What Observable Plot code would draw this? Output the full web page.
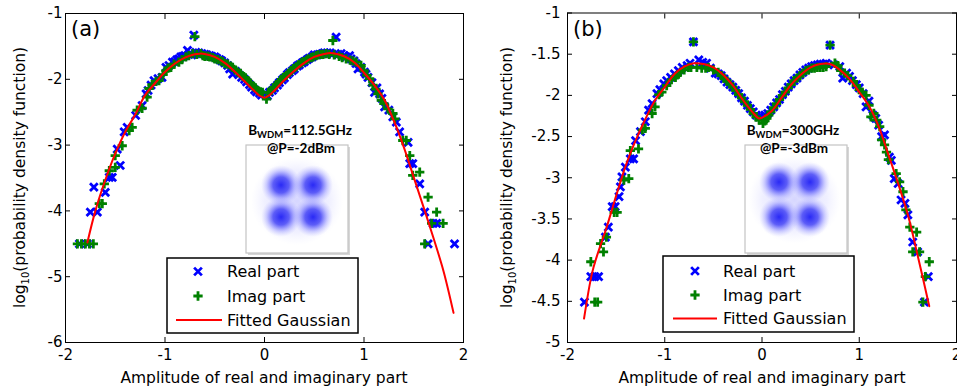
<!DOCTYPE html>
<html><head><meta charset="utf-8">
<script src="https://cdn.jsdelivr.net/npm/d3@7"></script>
<script src="https://cdn.jsdelivr.net/npm/@observablehq/plot@0.6"></script>
<style>
body{margin:0;background:#fff;}
#wrap{position:relative;width:957px;height:392px;overflow:hidden;font-family:"DejaVu Sans",sans-serif;}
#wrap svg{position:absolute;top:0;overflow:visible;}
</style></head><body><div id="wrap"></div>
<script>
// ---------- data ----------
const xTicks = [-2, -1, 0, 1, 2];
const aYTicks = [-6, -5, -4, -3, -2, -1];
const bYTicks = [-5, -4.5, -4, -3.5, -3, -2.5, -2, -1.5, -1];
const legendLabels = ["Real part", "Imag part", "Fitted Gaussian"];
const xLabel = "Amplitude of real and imaginary part";
const panelLabels = ["(a)", "(b)"];
const insetRate = ["112.5GHz", "300GHz"];
const insetPower = ["@P=-2dBm", "@P=-3dBm"];

// (a) fitted curve
const aCurveX = [-1.78,-1.70,-1.60,-1.50,-1.40,-1.30,-1.20,-1.10,-1.00,-0.90,-0.80,-0.70,-0.65,-0.60,-0.50,-0.40,-0.30,-0.20,-0.10,-0.05,0.00,0.05,0.10,0.20,0.30,0.40,0.50,0.60,0.67,0.80,0.90,1.00,1.10,1.20,1.30,1.40,1.50,1.60,1.70,1.80,1.90];
const aCurveY = [-4.48,-4.00,-3.53,-3.13,-2.80,-2.54,-2.24,-2.06,-1.89,-1.76,-1.67,-1.62,-1.61,-1.615,-1.66,-1.75,-1.88,-2.03,-2.18,-2.25,-2.28,-2.24,-2.17,-2.01,-1.87,-1.75,-1.66,-1.615,-1.60,-1.65,-1.74,-1.90,-2.08,-2.30,-2.63,-3.03,-3.49,-3.95,-4.42,-4.92,-5.55];
// (a) real part
const aRealX = [-1.86,-1.78,-1.75,-1.68,-1.715,-1.60,-1.56,-1.53,-1.45,-1.48,-1.41,-1.38,-1.295,-1.23,-1.19,-1.14,-1.11,-1.03,-0.99,-0.925,-0.88,-0.84,-0.80,-0.774,-0.73,-0.71,-0.69,-0.63,-0.60,-0.55,-0.50,-0.45,-0.40,-0.32,-0.26,-0.20,-0.15,-0.10,-0.05,0.00,0.05,0.10,0.15,0.20,0.25,0.30,0.35,0.40,0.45,0.50,0.55,0.60,0.63,0.68,0.72,0.77,0.82,0.855,0.90,0.94,0.97,1.005,1.04,1.08,1.106,1.157,1.207,1.325,1.358,1.443,1.46,1.49,1.56,1.61,1.695,1.73,1.644,1.91];
const aRealY = [-4.50,-4.50,-4.02,-4.02,-3.64,-3.72,-3.49,-3.49,-3.31,-3.06,-2.80,-2.73,-2.55,-2.40,-2.22,-2.09,-2.02,-1.97,-1.82,-1.74,-1.70,-1.66,-1.64,-1.56,-1.63,-1.33,-1.59,-1.61,-1.62,-1.64,-1.66,-1.70,-1.75,-1.92,-1.93,-2.00,-2.08,-2.16,-2.21,-2.22,-2.20,-2.13,-2.05,-1.98,-1.90,-1.84,-1.78,-1.73,-1.68,-1.63,-1.62,-1.60,-1.60,-1.62,-1.36,-1.61,-1.66,-1.64,-1.72,-1.84,-1.82,-1.89,-1.97,-2.05,-2.20,-2.22,-2.42,-2.65,-2.80,-2.96,-3.28,-3.28,-3.59,-4.02,-4.19,-4.19,-4.50,-4.50];
const aRealBandX = [-1.17,-1.07,-0.96,-0.90,-0.86,-0.82,-0.76,-0.66,-0.58,-0.53,-0.48,-0.43,-0.37,-0.35,-0.29,-0.23,-0.18,-0.13,-0.08,-0.03,0.03,0.08,0.13,0.18,0.23,0.28,0.33,0.38,0.43,0.48,0.53,0.58,0.66,0.74,0.80,0.87,0.92,1.02,1.13,1.18,1.25,1.29];
const aRealBandY = [-2.17,-1.99,-1.79,-1.73,-1.69,-1.65,-1.62,-1.60,-1.63,-1.65,-1.68,-1.72,-1.79,-1.84,-1.88,-1.97,-2.04,-2.12,-2.19,-2.24,-2.25,-2.17,-2.09,-2.01,-1.93,-1.87,-1.80,-1.75,-1.70,-1.66,-1.63,-1.61,-1.60,-1.62,-1.64,-1.69,-1.76,-1.92,-2.13,-2.29,-2.47,-2.57];
// (a) imag part
const aImagX = [-1.88,-1.84,-1.80,-1.76,-1.72,-1.66,-1.63,-1.61,-1.56,-1.50,-1.50,-1.43,-1.36,-1.33,-1.28,-1.23,-1.18,-1.16,-1.06,-0.99,-0.94,-0.86,-0.79,-0.72,-0.70,-0.64,-0.62,-0.57,-0.52,-0.47,-0.42,-0.37,-0.32,-0.27,-0.22,-0.17,-0.12,-0.07,-0.02,0.02,0.07,0.12,0.17,0.22,0.27,0.32,0.37,0.42,0.47,0.52,0.57,0.62,0.687,0.70,0.82,0.92,0.97,1.056,1.09,1.174,1.24,1.29,1.31,1.39,1.425,1.46,1.49,1.56,1.644,1.73,1.68,1.795,1.61];
const aImagY = [-4.50,-4.50,-4.50,-4.50,-4.50,-3.89,-3.89,-3.59,-3.39,-3.34,-3.16,-3.01,-2.78,-2.73,-2.47,-2.44,-2.27,-2.14,-2.02,-1.87,-1.82,-1.74,-1.66,-1.61,-1.35,-1.61,-1.64,-1.65,-1.67,-1.70,-1.73,-1.77,-1.82,-1.89,-1.95,-2.02,-2.10,-2.17,-2.20,-2.30,-2.17,-2.08,-2.00,-1.94,-1.87,-1.81,-1.75,-1.71,-1.67,-1.64,-1.62,-1.61,-1.41,-1.63,-1.69,-1.74,-1.79,-1.99,-2.09,-2.32,-2.45,-2.52,-2.60,-2.93,-2.93,-3.16,-3.46,-3.41,-3.79,-4.02,-4.19,-4.19,-4.50];
const aImagBandX = [-1.13,-1.09,-1.02,-0.97,-0.91,-0.83,-0.76,-0.68,-0.60,-0.55,-0.50,-0.44,-0.40,-0.34,-0.29,-0.24,-0.19,-0.14,-0.09,-0.04,0.04,0.09,0.14,0.19,0.24,0.29,0.34,0.39,0.44,0.49,0.54,0.59,0.65,0.75,0.78,0.86,0.89,1.00,1.03,1.12,1.14,1.20];
const aImagBandY = [-2.08,-2.03,-1.93,-1.83,-1.77,-1.70,-1.64,-1.62,-1.65,-1.66,-1.69,-1.72,-1.76,-1.80,-1.86,-1.91,-1.98,-2.06,-2.13,-2.19,-2.20,-2.13,-2.05,-1.97,-1.91,-1.84,-1.78,-1.73,-1.69,-1.66,-1.63,-1.62,-1.62,-1.65,-1.67,-1.71,-1.72,-1.87,-1.94,-2.15,-2.22,-2.37];

// (b) fitted curve
const bCurveX = [-1.83,-1.75,-1.70,-1.60,-1.50,-1.40,-1.30,-1.20,-1.10,-1.00,-0.90,-0.80,-0.70,-0.60,-0.50,-0.40,-0.30,-0.20,-0.10,-0.03,0.00,0.10,0.20,0.30,0.40,0.50,0.60,0.70,0.80,0.90,1.00,1.10,1.20,1.30,1.40,1.50,1.60,1.72];
const bCurveY = [-4.71,-4.17,-3.96,-3.61,-3.22,-2.85,-2.55,-2.29,-2.06,-1.90,-1.74,-1.65,-1.61,-1.62,-1.66,-1.75,-1.88,-2.05,-2.20,-2.28,-2.27,-2.19,-2.03,-1.87,-1.75,-1.66,-1.62,-1.62,-1.69,-1.80,-1.96,-2.13,-2.38,-2.72,-3.07,-3.45,-3.94,-4.56];
// (b) real part
const bRealX = [-1.826,-1.76,-1.72,-1.68,-1.61,-1.58,-1.54,-1.51,-1.47,-1.456,-1.44,-1.405,-1.354,-1.32,-1.30,-1.25,-1.20,-1.166,-1.13,-1.08,-1.01,-0.94,-0.86,-0.77,-0.705,-0.65,-0.57,-0.48,-0.42,-0.36,-0.30,-0.24,-0.18,-0.12,-0.06,0.00,0.06,0.12,0.18,0.24,0.30,0.36,0.42,0.48,0.54,0.60,0.66,0.70,0.80,0.83,0.90,0.97,1.04,1.07,1.14,1.23,1.26,1.31,1.33,1.36,1.40,1.43,1.47,1.50,1.55,1.60,1.71,1.67];
const bRealY = [-4.51,-4.20,-4.20,-4.20,-3.72,-3.60,-3.35,-3.35,-3.23,-3.11,-2.99,-2.87,-2.77,-2.77,-2.55,-2.44,-2.32,-2.18,-2.10,-1.98,-1.86,-1.78,-1.70,-1.64,-1.35,-1.57,-1.61,-1.73,-1.76,-1.84,-1.90,-1.98,-2.07,-2.16,-2.24,-2.26,-2.22,-2.14,-2.05,-1.95,-1.86,-1.79,-1.72,-1.67,-1.64,-1.62,-1.61,-1.39,-1.65,-1.79,-1.77,-1.87,-1.98,-2.14,-2.24,-2.50,-2.48,-2.75,-2.79,-3.01,-3.07,-3.27,-3.31,-3.45,-3.78,-3.90,-4.20,-4.51];
const bRealBandX = [-1.05,-0.98,-0.90,-0.82,-0.74,-0.61,-0.53,-0.45,-0.39,-0.33,-0.27,-0.21,-0.15,-0.09,-0.03,0.03,0.09,0.15,0.21,0.27,0.33,0.39,0.45,0.51,0.57,0.63,0.74,0.87,0.93,1.00,1.10,1.17,1.20];
const bRealBandY = [-1.93,-1.82,-1.74,-1.66,-1.61,-1.60,-1.67,-1.74,-1.80,-1.87,-1.94,-2.03,-2.12,-2.20,-2.26,-2.24,-2.18,-2.09,-1.99,-1.90,-1.82,-1.75,-1.69,-1.65,-1.63,-1.62,-1.63,-1.73,-1.82,-1.91,-2.07,-2.28,-2.36];
// (b) imag part
const bImagX = [-1.72,-1.69,-1.76,-1.66,-1.63,-1.60,-1.52,-1.49,-1.42,-1.37,-1.354,-1.27,-1.23,-1.20,-1.13,-1.10,-1.03,-0.98,-0.89,-0.84,-0.756,-0.705,-0.67,-0.55,-0.45,-0.39,-0.33,-0.27,-0.21,-0.15,-0.09,-0.03,0.01,0.05,0.09,0.15,0.21,0.27,0.33,0.39,0.45,0.51,0.57,0.63,0.70,0.75,0.85,0.94,1.00,1.07,1.10,1.12,1.18,1.23,1.28,1.30,1.38,1.415,1.45,1.48,1.52,1.59,1.55,1.62,1.72,1.68,1.655];
const bImagY = [-4.51,-4.51,-4.02,-3.80,-3.90,-3.72,-3.42,-3.42,-3.03,-3.01,-2.67,-2.65,-2.42,-2.40,-2.22,-2.14,-1.96,-1.88,-1.78,-1.72,-1.66,-1.35,-1.66,-1.66,-1.72,-1.79,-1.86,-1.94,-2.03,-2.12,-2.22,-2.30,-2.34,-2.28,-2.20,-2.10,-2.00,-1.91,-1.82,-1.76,-1.70,-1.67,-1.66,-1.66,-1.39,-1.61,-1.73,-1.83,-1.93,-2.00,-2.12,-2.26,-2.30,-2.54,-2.69,-2.78,-2.95,-3.05,-3.17,-3.39,-3.60,-3.66,-3.90,-3.90,-4.02,-4.20,-4.51];
const bImagBandX = [-1.06,-0.93,-0.87,-0.80,-0.73,-0.62,-0.58,-0.50,-0.42,-0.36,-0.30,-0.24,-0.18,-0.12,-0.06,0.03,0.07,0.12,0.18,0.24,0.30,0.36,0.42,0.48,0.54,0.60,0.66,0.78,0.81,0.88,0.97,1.03,1.15,1.21,1.26];
const bImagBandY = [-1.99,-1.81,-1.75,-1.69,-1.66,-1.67,-1.67,-1.69,-1.76,-1.83,-1.90,-1.99,-2.08,-2.17,-2.26,-2.31,-2.24,-2.15,-2.05,-1.96,-1.87,-1.79,-1.73,-1.69,-1.67,-1.66,-1.65,-1.64,-1.70,-1.76,-1.88,-1.96,-2.22,-2.38,-2.60];

// ---------- helpers ----------
const zip = (xs, ys) => xs.map((x, i) => ({x, y: ys[i]}));
const BLUE = "#0000ff", GREEN = "#008000", RED = "#ff0000";
const FONT = "'DejaVu Sans', sans-serif";
const BOLD = "Lato, 'Open Sans', sans-serif";
const MW = 2.8;

function panel(cfg) {
  const svg = Plot.plot({
    width: cfg.width, height: 392,
    marginLeft: cfg.ml, marginRight: cfg.mr, marginTop: cfg.mt, marginBottom: 50,
    x: {domain: [-2, 2]},
    y: {domain: cfg.ydomain},
    style: {fontFamily: FONT, fontSize: "15px", color: "black", background: "white", overflow: "visible"},
    marks: [
      Plot.frame({stroke: "black", strokeWidth: 1}),
      Plot.axisX(xTicks, {anchor: "bottom", tickSize: -5, tickPadding: 12, tickFormat: d => String(d), label: null, fontSize: 15}),
      Plot.axisX(xTicks, {anchor: "top", tickSize: -5, tickFormat: () => "", label: null}),
      Plot.axisY(cfg.yticks, {anchor: "left", tickSize: -5, tickPadding: cfg.typad, tickFormat: d => String(d), label: null, fontSize: 15}),
      Plot.axisY(cfg.yticks, {anchor: "right", tickSize: -5, tickFormat: () => "", label: null}),
      Plot.dot(cfg.real, {x: "x", y: "y", symbol: "times", r: 3.6, stroke: BLUE, strokeWidth: MW}),
      Plot.dot(cfg.imag, {x: "x", y: "y", symbol: "plus", r: 3.1, stroke: GREEN, strokeWidth: MW}),
      Plot.line(cfg.curve, {x: "x", y: "y", stroke: RED, strokeWidth: 2, curve: "catmull-rom"})
    ]
  });
  svg.style.left = cfg.left + "px";
  const s = d3.select(svg);
  const defs = s.append("defs");
  const gid = "blob" + cfg.idx;
  const rg = defs.append("radialGradient").attr("id", gid);
  rg.append("stop").attr("offset", "0%").attr("stop-color", "#1f1ff5").attr("stop-opacity", 0.95);
  rg.append("stop").attr("offset", "40%").attr("stop-color", "#2e2ef5").attr("stop-opacity", 0.75);
  rg.append("stop").attr("offset", "72%").attr("stop-color", "#5a5aff").attr("stop-opacity", 0.28);
  rg.append("stop").attr("offset", "100%").attr("stop-color", "#9999ff").attr("stop-opacity", 0);
  const hid = "haze" + cfg.idx;
  const hg = defs.append("radialGradient").attr("id", hid);
  hg.append("stop").attr("offset", "0%").attr("stop-color", "#7777ff").attr("stop-opacity", 0.3);
  hg.append("stop").attr("offset", "70%").attr("stop-color", "#9999ff").attr("stop-opacity", 0.15);
  hg.append("stop").attr("offset", "100%").attr("stop-color", "#bbbbff").attr("stop-opacity", 0);

  const txt = (sel) => sel.attr("text-anchor", "start").attr("font-family", FONT).attr("fill", "black");
  txt(s.append("text")).attr("x", cfg.plx).attr("y", 36).attr("font-size", 21).text(panelLabels[cfg.idx]);
  txt(s.append("text")).attr("x", cfg.xlx).attr("y", 383).attr("text-anchor", "middle").attr("font-size", 15.5).text(xLabel);
  const yl = txt(s.append("text")).attr("transform", `translate(${cfg.ylx},177.5) rotate(-90)`).attr("text-anchor", "middle").attr("font-size", 15.5);
  yl.append("tspan").text("log");
  yl.append("tspan").attr("dy", 4).attr("font-size", 10).text("10");
  yl.append("tspan").attr("dy", -4).text("(probability density function)");

  // inset
  const ins = cfg.inset;
  const g = s.append("g");
  g.append("rect").attr("x", ins.x0 + 2).attr("y", ins.y0 + 2).attr("width", ins.x1 - ins.x0).attr("height", ins.y1 - ins.y0).attr("fill", "#d6d6d6");
  g.append("rect").attr("x", ins.x0).attr("y", ins.y0).attr("width", ins.x1 - ins.x0).attr("height", ins.y1 - ins.y0).attr("fill", "white").attr("stroke", "#c4c4c4").attr("stroke-width", 1.2);
  const cx = (ins.bx[0] + ins.bx[1]) / 2, cy = (ins.by[0] + ins.by[1]) / 2;
  g.append("ellipse").attr("cx", cx).attr("cy", cy).attr("rx", 46).attr("ry", 44).attr("fill", `url(#${hid})`);
  for (const bx of ins.bx) for (const by of ins.by)
    g.append("circle").attr("cx", bx).attr("cy", by).attr("r", 20).attr("fill", `url(#${gid})`);
  const t1 = g.append("text").attr("x", ins.tx).attr("y", 135).attr("text-anchor", "middle").attr("font-size", 13.5).attr("font-weight", "bold").attr("font-family", BOLD).attr("fill", "black");
  t1.append("tspan").text("B");
  t1.append("tspan").attr("dy", 3).attr("font-size", 9.5).text("WDM");
  t1.append("tspan").attr("dy", -3).text("=" + insetRate[cfg.idx]);
  g.append("text").attr("x", ins.tx + 1).attr("y", 153).attr("text-anchor", "middle").attr("font-size", 13.5).attr("font-weight", "bold").attr("font-family", BOLD).attr("fill", "black").text(insetPower[cfg.idx]);

  // legend
  const L = cfg.legend;
  const lg = s.append("g");
  lg.append("rect").attr("x", L.x0).attr("y", L.y0).attr("width", L.x1 - L.x0).attr("height", L.y1 - L.y0).attr("fill", "white").attr("stroke", "black").attr("stroke-width", 1.5);
  lg.append("path").attr("transform", `translate(${L.mx},${L.rows[0]})`).attr("d", d3.symbol(d3.symbolTimes, Math.PI * 3.6 * 3.6)()).attr("fill", "none").attr("stroke", BLUE).attr("stroke-width", MW);
  lg.append("path").attr("transform", `translate(${L.mx},${L.rows[1]})`).attr("d", d3.symbol(d3.symbolPlus, Math.PI * 3.1 * 3.1)()).attr("fill", "none").attr("stroke", GREEN).attr("stroke-width", MW);
  lg.append("line").attr("x1", L.lx0).attr("x2", L.lx1).attr("y1", L.rows[2]).attr("y2", L.rows[2]).attr("stroke", RED).attr("stroke-width", 2);
  legendLabels.forEach((t, i) => txt(lg.append("text")).attr("x", L.tx).attr("y", L.rows[i]).attr("dy", "0.36em").attr("font-size", 16).text(t));
  return svg;
}

const wrap = document.getElementById("wrap");
wrap.appendChild(panel({
  idx: 0, left: 0, width: 479, ml: 65, mr: 16, mt: 13, ydomain: [-6, -1], yticks: aYTicks, typad: 8,
  real: zip(aRealX, aRealY).concat(zip(aRealBandX, aRealBandY)),
  imag: zip(aImagX, aImagY).concat(zip(aImagBandX, aImagBandY)),
  curve: zip(aCurveX, aCurveY),
  plx: 71, xlx: 264, ylx: 25,
  inset: {x0: 246, x1: 348, y0: 145, y1: 253, bx: [281, 313], by: [185, 217], tx: 300},
  legend: {x0: 167, x1: 358, y0: 258, y1: 333, rows: [271.5, 296, 320], mx: 198, tx: 227, lx0: 176, lx1: 222}
}));
wrap.appendChild(panel({
  idx: 1, left: 479, width: 478, ml: 88, mr: 1, mt: 12.5, ydomain: [-5, -1], yticks: bYTicks, typad: 12,
  real: zip(bRealX, bRealY).concat(zip(bRealBandX, bRealBandY)),
  imag: zip(bImagX, bImagY).concat(zip(bImagBandX, bImagBandY)),
  curve: zip(bCurveX, bCurveY),
  plx: 94, xlx: 283, ylx: 33,
  inset: {x0: 266, x1: 368, y0: 145, y1: 253, bx: [300, 331], by: [182, 217], tx: 314},
  legend: {x0: 184, x1: 375, y0: 256, y1: 332, rows: [271, 295, 318.5], mx: 216, tx: 244, lx0: 194, lx1: 238}
}));
</script></body></html>
